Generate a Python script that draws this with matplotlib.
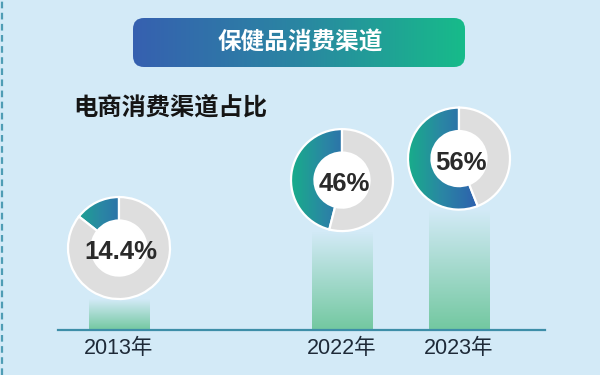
import matplotlib
matplotlib.use("Agg")
import matplotlib.pyplot as plt
import numpy as np
from matplotlib.patches import FancyBboxPatch, Circle
from matplotlib.colors import LinearSegmentedColormap

plt.rcParams['font.family'] = ['Liberation Sans', 'Noto Sans CJK SC', 'DejaVu Sans']

# data
years = ['2013年', '2022年', '2023年']
share = [14.4, 46, 56]
share_labels = ['14.4%', '46%', '56%']
title = '保健品消费渠道'
subtitle = '电商消费渠道占比'

# layout (pixels, y up)
W, H = 600, 375
bg = '#d3eaf7'
x_pos = [119, 342, 459]
base_y = 45
px_per_pct = 2.15
R = 51
bar_w = 61

fig = plt.figure(figsize=(6, 3.75), dpi=100)
fig.patch.set_facecolor(bg)
ax = fig.add_axes([0, 0, 1, 1])
ax.set_facecolor(bg)

# dashed line on the left edge
ax.plot([2, 2], [0, H], color='#4f9db5', lw=1.6, ls=(0, (3, 2)), zorder=1)

# title banner with horizontal gradient
banner = FancyBboxPatch((133, 308), 332, 49, boxstyle='round,pad=0,rounding_size=11',
                        facecolor='none', edgecolor='none', zorder=2)
ax.add_patch(banner)
ban_cmap = LinearSegmentedColormap.from_list('ban', ['#3660b0', '#2a86a2', '#17bb8a'])
ax.imshow(np.linspace(0, 1, 256)[None, :], cmap=ban_cmap, extent=[133, 465, 308, 357],
          aspect='auto', clip_path=banner, zorder=2)
ax.text(300, 333, title, color='white', fontsize=17, fontweight='bold',
        ha='center', va='center', family=['Noto Sans CJK SC'], zorder=3)

ax.text(73, 268, subtitle, color='#151515', fontsize=17.5, fontweight='bold',
        ha='left', va='center', family=['Noto Sans CJK SC'], zorder=3)

# bars fading upwards
heights = [v * px_per_pct for v in share]
bars = ax.bar(x_pos, heights, width=bar_w, bottom=base_y, color='none', zorder=2)
bar_rgba = np.zeros((256, 1, 4))
bar_rgba[:, 0, 0] = 0.43
bar_rgba[:, 0, 1] = 0.78
bar_rgba[:, 0, 2] = 0.61
bar_rgba[:, 0, 3] = np.linspace(0.95, 0.0, 256)
for b in bars:
    x0, y0 = b.get_x(), b.get_y()
    ax.imshow(bar_rgba, extent=[x0, x0 + b.get_width(), y0, y0 + b.get_height()],
              origin='lower', aspect='auto', clip_path=b, zorder=2)

# baseline
ax.plot([58, 545], [base_y, base_y], color='#3d8ea8', lw=1.6, zorder=3)

# donuts on top of bars
ring_cmap = LinearSegmentedColormap.from_list('ring', ['#18ad8a', '#2a86a4', '#2e62ae', '#2b5aa8'])
for x, v, h, lab, yr in zip(x_pos, share, heights, share_labels, years):
    cy = base_y + h + R
    wedges, _ = ax.pie([v, 100 - v], center=(x, cy), radius=R, startangle=90,
                       counterclock=True, colors=['none', '#dedede'],
                       wedgeprops=dict(width=R * 0.46, edgecolor='white', linewidth=1.6))
    for wdg in wedges:
        wdg.set_zorder(5)
    ax.imshow(np.linspace(0, 1, 256)[None, :], cmap=ring_cmap,
              extent=[x - R, x + R, cy - R, cy + R], aspect='auto',
              clip_path=wedges[0], zorder=4)
    ax.add_patch(Circle((x, cy), R * 0.54, facecolor='white', edgecolor='none', zorder=4))
    ax.text(x + 2, cy - 4, lab, fontsize=18.5, fontweight='bold', color='#2a2a2a',
            ha='center', va='center', zorder=6)
    ax.text(x, 26, yr, fontsize=15.5, color='#1e2a38', ha='center', va='center', zorder=6)

ax.set_xlim(0, W)
ax.set_ylim(0, H)
ax.set_aspect('auto')
ax.axis('off')

fig.savefig('out.png', dpi=100, facecolor=bg)
